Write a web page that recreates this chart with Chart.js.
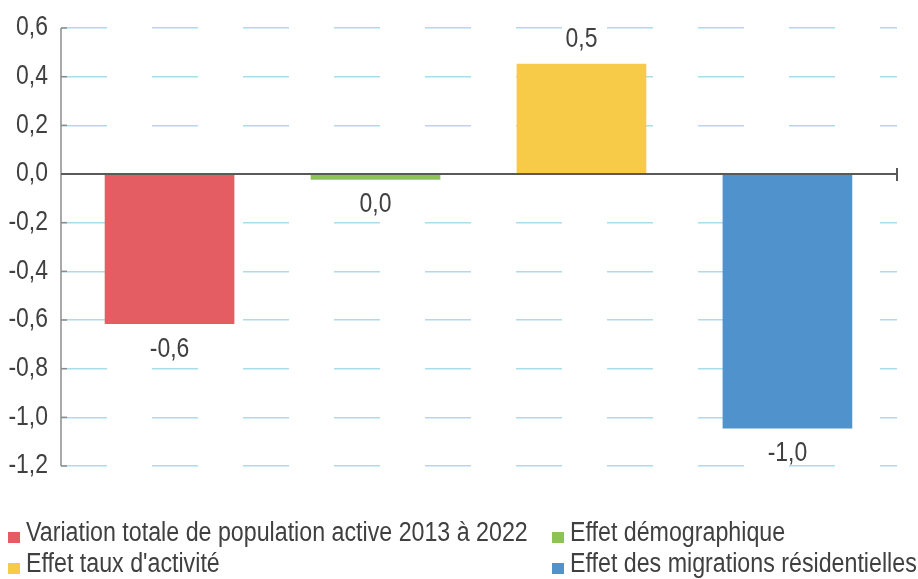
<!DOCTYPE html>
<html>
  <head>
    <meta charset="utf-8">
    <title>Effets sur la population active</title>
    <script src="https://cdn.jsdelivr.net/npm/chart.js@4.4.1/dist/chart.umd.min.js"></script>
    <style>
      body { margin: 0; background: #fff; }
      #wrap { position: relative; width: 918px; height: 579px; overflow: hidden; }
      #legend {
        position: absolute; left: 0; top: 0; width: 918px; height: 579px;
        font-family: 'Liberation Sans', Arial, sans-serif;
        font-size: 27px; line-height: 27px; color: #404040;
      }
      .box { position: absolute; width: 12px; height: 11px; }
      .txt { position: absolute; white-space: nowrap; transform-origin: 0 0; transform: scaleX(0.86); }
    </style>
  </head>
  <body>
    <div id="wrap">
      <canvas id="myChart" width="918" height="579"></canvas>
      <div id="legend"></div>
    </div>

    <script>
      var categories = ["Variation totale de population active 2013 à 2022", "Effet démographique",
                        "Effet taux d'activité", "Effet des migrations résidentielles"];
      var values = [-0.615, -0.022, 0.452, -1.045];
      var colours = ["#E45D63", "#8CC453", "#F7CB48", "#5092CB"];
      var yTicks = [0.6, 0.4, 0.2, 0.0, -0.2, -0.4, -0.6, -0.8, -1.0, -1.2];

      var fontName = "'Liberation Sans', Arial, sans-serif";
      var squeeze = 0.85;

      function fmt(v) {
        return v.toFixed(1).replace(".", ",").replace("-0,0", "0,0");
      }

      // narrow text: Liberation Sans squeezed horizontally
      function narrowText(ctx, txt, x, y, align, base) {
        ctx.save();
        ctx.translate(x, y);
        ctx.scale(squeeze, 1);
        ctx.textAlign = align;
        ctx.textBaseline = base;
        ctx.fillText(txt, 0, 0);
        ctx.restore();
      }

      // axis line, small inside ticks, tick labels, zero line and value labels
      var extras = {
        id: "extras",
        afterDatasetsDraw: function(chart) {
          var ctx = chart.ctx;
          var y = chart.scales.y;
          var area = chart.chartArea;
          ctx.save();
          ctx.strokeStyle = "#8c8c8c";
          ctx.lineWidth = 1.5;
          ctx.beginPath();
          ctx.moveTo(area.left, area.top);
          ctx.lineTo(area.left, area.bottom);
          ctx.stroke();
          ctx.fillStyle = "#404040";
          ctx.font = "27px " + fontName;
          yTicks.forEach(function(t) {
            var py = y.getPixelForValue(t);
            ctx.beginPath();
            ctx.moveTo(area.left, py);
            ctx.lineTo(area.left + 6, py);
            ctx.stroke();
            narrowText(ctx, fmt(t), area.left - 13, py, "right", "middle");
          });
          var zero = y.getPixelForValue(0);
          ctx.strokeStyle = "#595959";
          ctx.lineWidth = 2;
          ctx.beginPath();
          ctx.moveTo(area.left, zero);
          ctx.lineTo(area.right, zero);
          ctx.moveTo(area.right, zero - 6);
          ctx.lineTo(area.right, zero + 7);
          ctx.stroke();

          chart.data.datasets.forEach(function(ds, i) {
            var bar = chart.getDatasetMeta(i).data[0];
            var v = values[i];
            if (v >= 0) {
              narrowText(ctx, fmt(v), bar.x, bar.y - 11, "center", "bottom");
            } else {
              narrowText(ctx, fmt(v), bar.x, bar.y + 12, "center", "top");
            }
          });
          ctx.restore();
        }
      };

      var datasets = categories.map(function(name, i) {
        return {
          label: name,
          data: [{x: i, y: values[i]}],
          backgroundColor: colours[i],
          barThickness: 129,
          grouped: false
        };
      });

      var ctx = document.getElementById('myChart').getContext('2d');
      var mychart = new Chart(ctx, {
        type: "bar",
        data: { datasets: datasets },
        plugins: [extras],
        options: {
          responsive: false,
          animation: false,
          layout: { padding: { top: 28, bottom: 113, right: 21, left: 0 } },
          plugins: { legend: { display: false }, tooltip: { enabled: false } },
          scales: {
            x: {
              type: "linear",
              offset: false,
              min: -0.527,
              max: 3.532,
              display: false
            },
            y: {
              min: -1.2,
              max: 0.6,
              afterFit: function(scale) { scale.width = 61; },
              afterBuildTicks: function(scale) {
                scale.ticks = yTicks.map(function(t) { return {value: t}; });
              },
              border: { display: false, dash: [46, 45] },
              grid: { color: "#A8DDEB", lineWidth: 1.5, drawTicks: false },
              ticks: { display: false }
            }
          }
        }
      });

      // two column legend under the chart
      var legend = document.getElementById('legend');
      categories.forEach(function(name, i) {
        var col = i % 2 === 0 ? 8 : 552;
        var row = i < 2 ? 0 : 31;
        var box = document.createElement('div');
        box.className = 'box';
        box.style.left = col + 'px';
        box.style.top = (532 + row) + 'px';
        box.style.background = colours[i];
        var txt = document.createElement('div');
        txt.className = 'txt';
        txt.style.left = (col + 18) + 'px';
        txt.style.top = (519 + row) + 'px';
        txt.textContent = name;
        legend.appendChild(box);
        legend.appendChild(txt);
      });
    </script>
  </body>
</html>
